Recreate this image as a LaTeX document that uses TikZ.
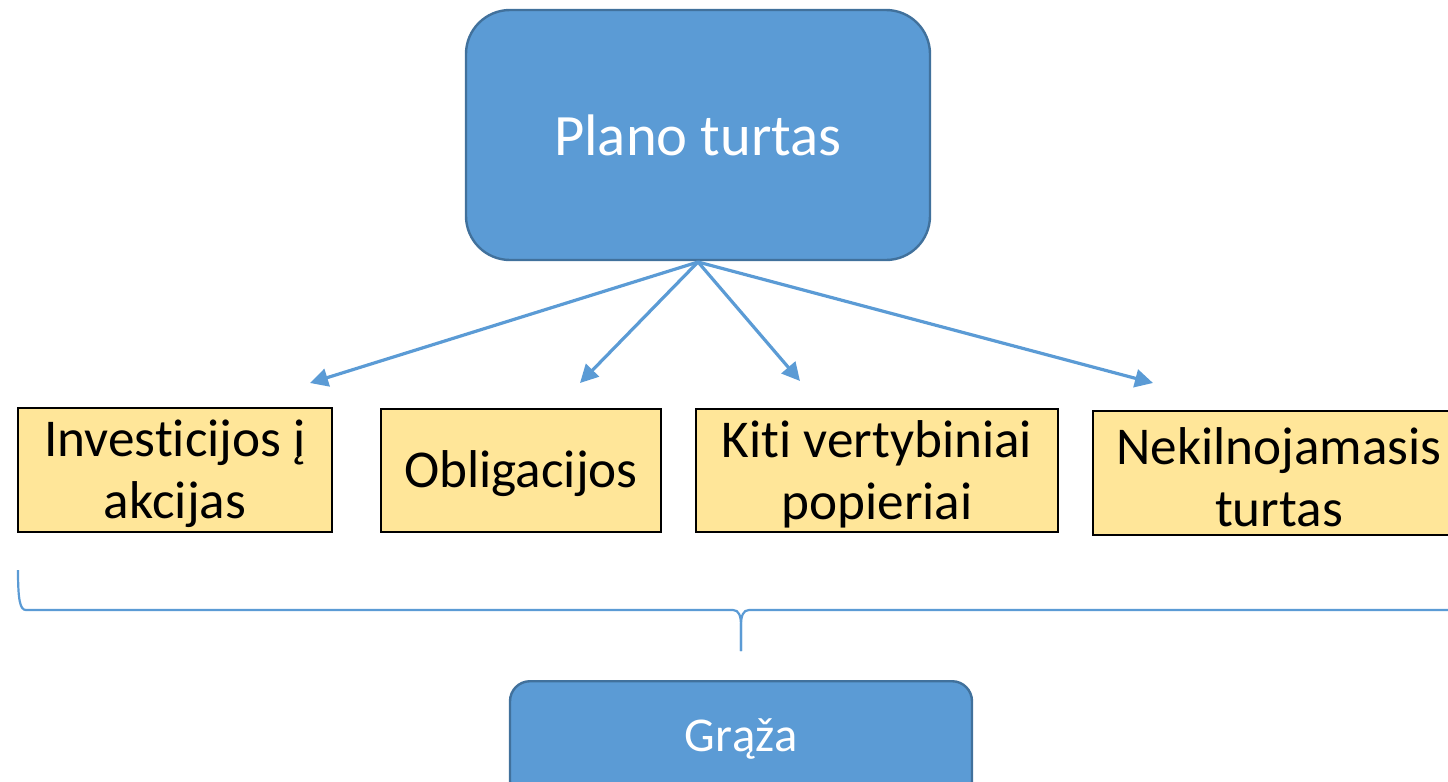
\documentclass[tikz,border=0pt]{standalone}
\usepackage{fontspec}
\setmainfont{Carlito}[Ligatures=NoCommon]
\usetikzlibrary{arrows.meta}
\definecolor{accblue}{HTML}{5B9BD5}
\definecolor{accborder}{HTML}{41719C}
\definecolor{paleyellow}{HTML}{FFE699}
\tikzset{
  bluebox/.style={draw=accborder, line width=1.2pt, fill=accblue, text=white, align=center},
  yellowbox/.style={draw=black, line width=1pt, fill=paleyellow, align=center, inner sep=0pt,
    font=\fontsize{26.6}{31}\selectfont},
  conn/.style={draw=accblue, line width=1.6pt, -{Triangle[length=9pt,width=9pt]}},
}
\begin{document}
\begin{tikzpicture}[x=0.5pt,y=-0.5pt]
\useasboundingbox (0,0) rectangle (1448,782);
\clip (0,0) rectangle (1448,782);
% top node
\node[bluebox, rounded corners=22pt, minimum width=232pt, minimum height=125pt,
  font=\fontsize{29.3}{35}\selectfont] (plan) at (698,135) {Plano turtas};
% yellow boxes
\node[yellowbox, minimum width=157pt, minimum height=62pt] (akc) at (175,470) {};
\node[yellowbox, minimum width=140pt, minimum height=61.5pt] (obl) at (521,470.5) {};
\node[yellowbox, minimum width=181pt, minimum height=61.5pt] (kiti) at (877,470.5) {};
\node[yellowbox, minimum width=190pt, minimum height=62pt] (nek) at (1283,473) {};
\node[align=center, font=\fontsize{26.6}{31}\selectfont] (akct) at (175,474) {Investicijos į\\akcijas};
\node[align=center, font=\fontsize{26.6}{31}\selectfont] (oblt) at (521,474) {Obligacijos};
\node[align=center, font=\fontsize{26.6}{31}\selectfont] (kitit) at (877,474) {Kiti vertybiniai\\popieriai};
\node[align=center, font=\fontsize{26.6}{31}\selectfont] (nekt) at (1279,477) {Nekilnojamasis\\turtas};
% arrow targets
\coordinate (src) at (698,262);
\coordinate (t1) at (310,383);
\coordinate (t2) at (580,383);
\coordinate (t3) at (800,381);
\coordinate (t4) at (1153,383);
\draw[conn] (src) -- (t1);
\draw[conn] (src) -- (t2);
\draw[conn] (src) -- (t3);
\draw[conn] (src) -- (t4);
% brace
\coordinate (bl) at (18,570);
\coordinate (btip) at (741,651);
\coordinate (br) at (1460,610);
\draw[accblue, line width=1.1pt] (bl) .. controls (18,600) and (20,610) .. (26,610)
  -- (733,610) .. controls (739,610) and (741,616) .. (741,626) -- (btip);
\draw[accblue, line width=1.1pt] (btip) -- (741,626) .. controls (741,616) and (743,610) .. (749,610) -- (br);
% bottom node
\node[bluebox, rounded corners=10pt, minimum width=231pt, minimum height=60pt, anchor=north] (graza) at (741,680) {};
\node[text=white, font=\fontsize{24.3}{29}\selectfont] (grazatext) at (741,739) {Grąža};
\end{tikzpicture}
\end{document}
